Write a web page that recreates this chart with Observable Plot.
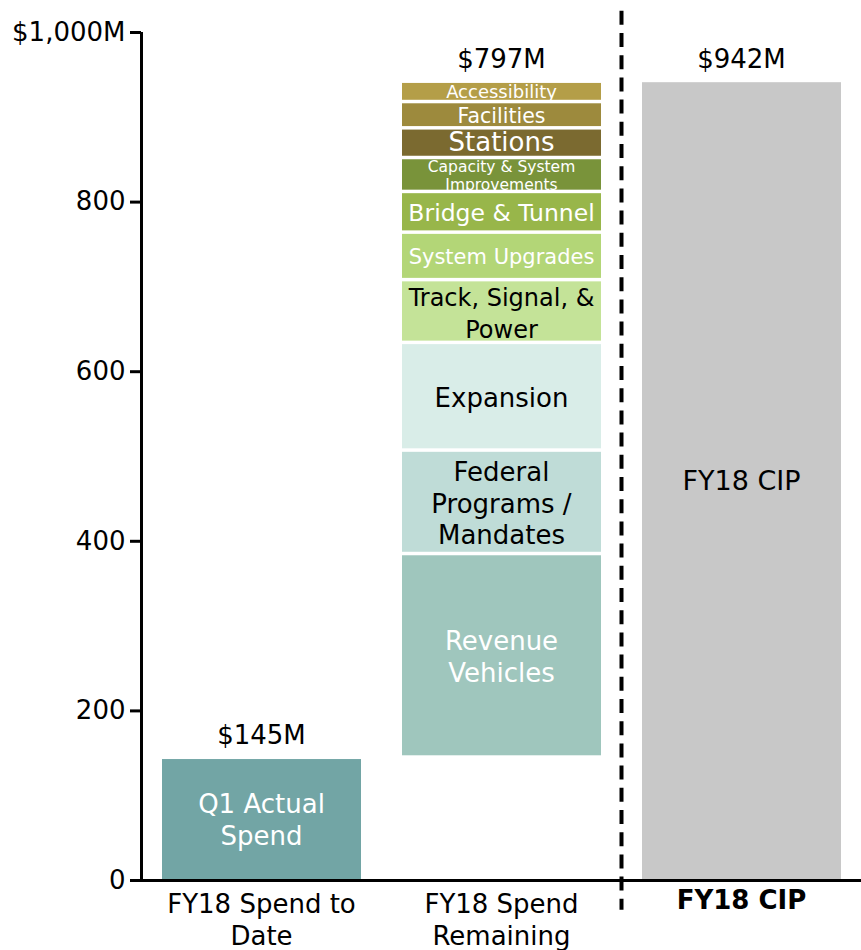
<!DOCTYPE html>
<html>
<head>
<meta charset="utf-8">
<script src="https://cdn.jsdelivr.net/npm/d3@7"></script>
<script src="https://cdn.jsdelivr.net/npm/@observablehq/plot@0.6"></script>
<style>
  html, body { margin: 0; padding: 0; background: #fff; }
  #chart { width: 861px; height: 950px; }
</style>
</head>
<body>
<div id="chart"></div>
<script>
// ---- Data ----
const categories = ["FY18 Spend to Date", "FY18 Spend Remaining", "FY18 CIP"];
const categoryLabels = ["FY18 Spend to\nDate", "FY18 Spend\nRemaining", "FY18 CIP"];
const totalValues = [145, 797, 942];
const totalLabels = ["$145M", "$797M", "$942M"];

const spendToDate = 145;
const spendToDateLabel = "Q1 Actual\nSpend";
const cipTotal = 942;
const cipLabel = "FY18 CIP";

// remaining spend, stacked bottom -> top
const segmentNames = [
  "Revenue Vehicles", "Federal Programs / Mandates", "Expansion",
  "Track, Signal, & Power", "System Upgrades", "Bridge & Tunnel",
  "Capacity & System Improvements", "Stations", "Facilities", "Accessibility"
];
const segmentValues = [240, 122, 127, 74, 56, 48, 40, 35, 31, 24];
const segmentLabels = [
  "Revenue\nVehicles", "Federal\nPrograms /\nMandates", "Expansion",
  "Track, Signal, &\nPower", "System Upgrades", "Bridge & Tunnel",
  "Capacity & System\nImprovements", "Stations", "Facilities", "Accessibility"
];

const yTicks = [0, 200, 400, 600, 800, 1000];
const yTickLabels = ["0", "200", "400", "600", "800", "$1,000M"];

// ---- Styles ----
const q1Color = "#72a5a5";
const cipColor = "#c8c8c8";
const segmentColors = [
  "#9fc6bd", "#bfdcd7", "#d9ede8", "#c4e398", "#b3d677",
  "#98b64a", "#79933a", "#7b6a30", "#9d8a3d", "#b49e48"
];
const segmentTextColors = [
  "#ffffff", "#000000", "#000000", "#000000", "#ffffff",
  "#ffffff", "#ffffff", "#ffffff", "#ffffff", "#ffffff"
];
const segmentFontSizes = [26, 26, 26, 24, 21, 23.5, 15.5, 26, 20.5, 18];
const segmentLineHeights = [1.23, 1.23, 1.2, 1.33, 1.2, 1.2, 1.2, 1.0, 1.2, 1.1];

// ---- Build table ----
const ends = d3.cumsum(segmentValues).map(v => v + spendToDate);
const segments = segmentNames.map((name, i) => ({
  name,
  cat: categories[1],
  y1: i === 0 ? spendToDate : ends[i - 1],
  y2: ends[i],
  label: segmentLabels[i],
  color: segmentColors[i],
  textColor: segmentTextColors[i]
}));
const totals = categories.map((c, i) => ({cat: c, value: totalValues[i], label: totalLabels[i]}));
totals[0].top = totalValues[0];
totals[1].top = spendToDate + totalValues[1];
totals[2].top = totalValues[2];

const chart = Plot.plot({
  width: 861,
  height: 950,
  marginTop: 32,
  marginBottom: 70,
  marginLeft: 141,
  marginRight: 0,
  style: {fontFamily: "'DejaVu Sans', Verdana, sans-serif", fontSize: "26px", background: "#fff", overflow: "visible", color: "#000"},
  x: {domain: categories, paddingInner: 1/6, paddingOuter: 1/12, axis: null},
  y: {domain: [0, 1000], label: null},
  color: {type: "identity"},
  marks: [
    // bars
    Plot.barY([spendToDate], {x: () => categories[0], y1: 0, y2: d => d, fill: q1Color, insetTop: 2, insetLeft: 1}),
    Plot.barY(segments, {x: "cat", y1: "y1", y2: "y2", fill: d => d.color, insetTop: 1.75, insetBottom: 1.75, insetLeft: 1}),
    Plot.barY([cipTotal], {x: () => categories[2], y1: 0, y2: d => d, fill: cipColor, insetTop: 1, insetLeft: 1}),

    // in-bar labels
    Plot.text([spendToDate], {x: () => categories[0], y: d => d / 2, text: () => spendToDateLabel, fill: "#fff", fontSize: 26, lineHeight: 1.23}),
    ...segments.map((s, i) => Plot.text([s], {
      x: "cat", y: d => (d.y1 + d.y2) / 2, text: "label",
      fill: d => d.textColor, fontSize: segmentFontSizes[i], lineHeight: segmentLineHeights[i]
    })),
    Plot.text([cipTotal], {x: () => categories[2], y: d => d / 2, text: () => cipLabel, fill: "#000", fontSize: 27}),

    // totals above bars
    Plot.text(totals, {x: "cat", y: "top", text: "label", dy: -22, fontSize: 26, fill: "#000"}),

    // category labels under axis
    Plot.text(categories.slice(0, 2), {x: d => d, y: () => 0, text: (d, i) => categoryLabels[i], lineAnchor: "top", dy: 10, fontSize: 26, lineHeight: 1.23, fill: "#000"}),
    Plot.text([categories[2]], {x: d => d, y: () => 0, text: () => categoryLabels[2], lineAnchor: "top", dy: 10, fontSize: 26, fontWeight: "bold", fill: "#000"}),

    // y axis
    Plot.axisY(yTicks, {tickFormat: d => yTickLabels[yTicks.indexOf(d)], tickSize: 11, tickPadding: 5, strokeWidth: 3, fontSize: 26, label: null}),
    Plot.ruleX([categories[0]], {x: d => d, y1: 0, y2: 1000, dx: -120, strokeWidth: 3, stroke: "#000"}),
    Plot.ruleY([0], {strokeWidth: 3, stroke: "#000"}),

    // dashed divider
    Plot.ruleX([categories[2]], {x: d => d, y1: 1025, y2: -35, dx: -120, strokeWidth: 4, stroke: "#000", strokeDasharray: "14,8.2"})
  ]
});
document.getElementById("chart").appendChild(chart);
</script>
</body>
</html>
